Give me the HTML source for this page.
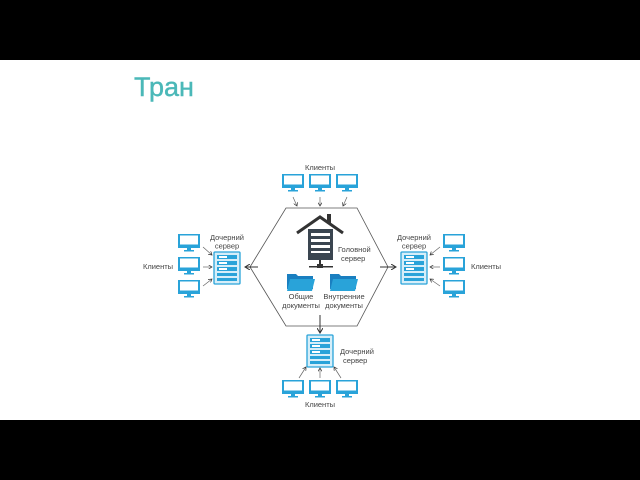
<!DOCTYPE html>
<html><head><meta charset="utf-8"><style>
body{margin:0;width:640px;height:480px;background:#fff;overflow:hidden}
svg{display:block}
text{font-family:"Liberation Sans",sans-serif;font-size:7.5px;fill:#444}
</style></head><body>
<svg width="640" height="480" viewBox="0 0 640 480">
<defs>
<g id="mon"><rect x="-11" y="0" width="22" height="14" fill="#29a3d9"/><rect x="-9" y="1.5" width="18" height="9" fill="#fff"/><rect x="-2" y="14" width="4" height="2" fill="#29a3d9"/><rect x="-5" y="16" width="10" height="1.5" fill="#29a3d9"/></g>
<g id="srv"><rect x="0" y="0" width="26" height="32" fill="#d6eef9" stroke="#29a3d9" stroke-width="1.3" rx="1"/>
<rect x="3" y="3" width="20" height="4" fill="#29a3d9"/><rect x="3" y="9" width="20" height="4" fill="#29a3d9"/><rect x="3" y="15" width="20" height="4" fill="#29a3d9"/><rect x="3" y="21" width="20" height="3" fill="#29a3d9"/><rect x="3" y="26" width="20" height="3" fill="#29a3d9"/>
<rect x="5" y="4" width="8" height="2" fill="#fff"/><rect x="5" y="10" width="8" height="2" fill="#fff"/><rect x="5" y="16" width="8" height="2" fill="#fff"/></g>
<g id="fold"><path d="M0 2 h9 l2 2 h15 v13 h-26z" fill="#1a7fc0"/><path d="M3 7 h25 l-3 12 h-25z" fill="#29a3d9"/></g>
<marker id="ah" markerWidth="6" markerHeight="6" refX="5" refY="3" orient="auto"><path d="M0 0 L5 3 L0 6" fill="none" stroke="#333" stroke-width="1"/></marker>
</defs>
<rect x="0" y="0" width="640" height="60" fill="#000"/>
<rect x="0" y="420" width="640" height="60" fill="#000"/>
<text x="134" y="96" style="font-size:27px;fill:#4bb8b8;font-family:'Liberation Sans',sans-serif;stroke:#4bb8b8;stroke-width:0.4">Тран</text>
<polygon points="286,208 357,208 388,267 357,326 286,326 250,267" fill="none" stroke="#555" stroke-width="0.8"/>
<text x="320" y="170" text-anchor="middle">Клиенты</text>
<use href="#mon" x="293" y="174"/><use href="#mon" x="320" y="174"/><use href="#mon" x="347" y="174"/>
<g stroke="#666" stroke-width="0.7" marker-end="url(#ah)"><line x1="293" y1="197" x2="297" y2="206"/><line x1="320" y1="197" x2="320" y2="206"/><line x1="347" y1="197" x2="343" y2="206"/></g>
<path d="M297 233 L320 217 L343 233" fill="none" stroke="#333" stroke-width="3"/>
<rect x="327" y="214" width="4" height="9" fill="#333"/>
<rect x="308" y="229" width="25" height="31" fill="#3a4550"/>
<g fill="#fff"><rect x="311" y="233" width="19" height="3"/><rect x="311" y="239" width="19" height="3"/><rect x="311" y="245" width="19" height="3"/><rect x="311" y="251" width="19" height="2"/></g>
<rect x="319" y="260" width="2" height="6" fill="#333"/><rect x="309" y="266" width="24" height="1.5" fill="#333"/><rect x="317" y="264" width="6" height="4" fill="#333"/>
<text x="338" y="252">Головной</text><text x="341" y="261">сервер</text>
<use href="#fold" x="287" y="272"/><use href="#fold" x="330" y="272"/>
<text x="301" y="299" text-anchor="middle">Общие</text><text x="301" y="308" text-anchor="middle">документы</text>
<text x="344" y="299" text-anchor="middle">Внутренние</text><text x="344" y="308" text-anchor="middle">документы</text>
<g stroke="#333" stroke-width="1" marker-end="url(#ah)"><line x1="320" y1="315" x2="320" y2="333"/><line x1="258" y1="267" x2="245" y2="267"/><line x1="380" y1="267" x2="396" y2="267"/></g>
<use href="#srv" x="307" y="335"/>
<text x="340" y="354">Дочерний</text><text x="343" y="363">сервер</text>
<use href="#mon" x="293" y="380"/><use href="#mon" x="320" y="380"/><use href="#mon" x="347" y="380"/>
<g stroke="#666" stroke-width="0.7" marker-end="url(#ah)"><line x1="299" y1="378" x2="306" y2="367"/><line x1="320" y1="378" x2="320" y2="368"/><line x1="341" y1="378" x2="334" y2="367"/></g>
<text x="320" y="407" text-anchor="middle">Клиенты</text>
<use href="#srv" x="214" y="252"/>
<text x="227" y="240" text-anchor="middle">Дочерний</text><text x="227" y="248.5" text-anchor="middle">сервер</text>
<use href="#mon" x="189" y="234"/><use href="#mon" x="189" y="257"/><use href="#mon" x="189" y="280"/>
<g stroke="#666" stroke-width="0.7" marker-end="url(#ah)"><line x1="203" y1="247" x2="212" y2="255"/><line x1="203" y1="267" x2="212" y2="267"/><line x1="203" y1="286" x2="212" y2="279"/></g>
<text x="143" y="269">Клиенты</text>
<use href="#srv" x="401" y="252"/>
<text x="414" y="240" text-anchor="middle">Дочерний</text><text x="414" y="248.5" text-anchor="middle">сервер</text>
<use href="#mon" x="454" y="234"/><use href="#mon" x="454" y="257"/><use href="#mon" x="454" y="280"/>
<g stroke="#666" stroke-width="0.7" marker-end="url(#ah)"><line x1="440" y1="247" x2="430" y2="255"/><line x1="440" y1="267" x2="430" y2="267"/><line x1="440" y1="286" x2="430" y2="279"/></g>
<text x="471" y="269">Клиенты</text>
</svg>
</body></html>
